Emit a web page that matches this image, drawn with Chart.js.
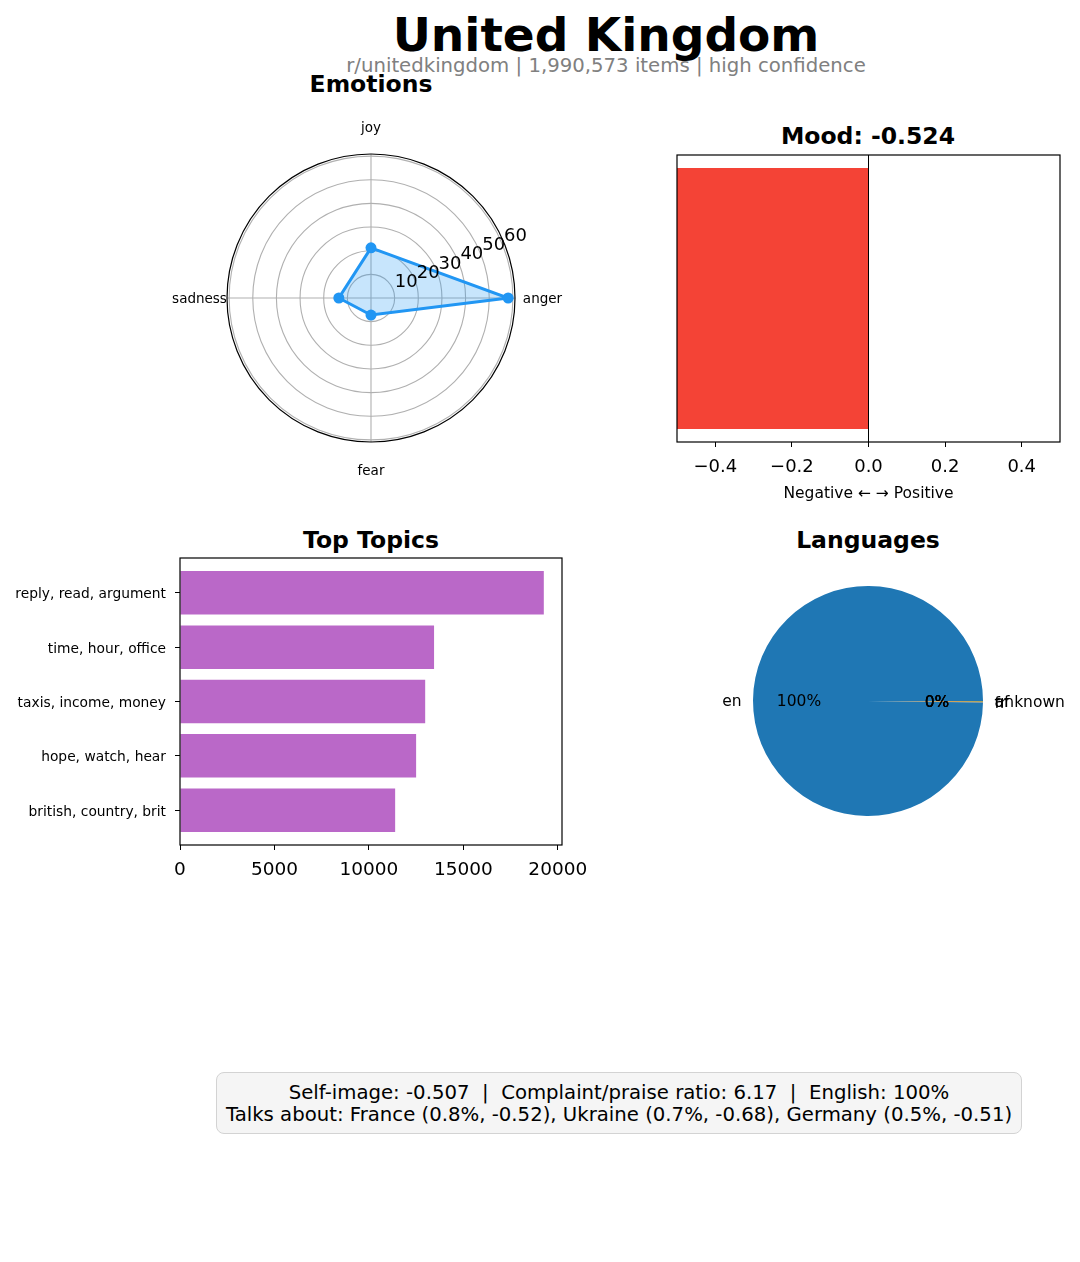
<!DOCTYPE html>
<html><head><meta charset="utf-8">
<script src="https://cdn.jsdelivr.net/npm/chart.js@4.4.1/dist/chart.umd.min.js"></script>
<style>
body{margin:0;background:#fff;width:1080px;height:1262px;position:relative;overflow:hidden;font-family:"DejaVu Sans",sans-serif;color:#000;}
.t{position:absolute;text-align:center;white-space:pre;}
canvas{position:absolute;}
#box{position:absolute;left:216px;top:1072px;width:806px;height:62px;box-sizing:border-box;border:1px solid #d3d3d3;border-radius:8px;background:#f5f5f5;text-align:center;font-size:19.7px;line-height:22px;padding-top:9px;white-space:pre;}
</style></head><body>

<div class="t" style="left:206px;width:800px;top:7px;line-height:56px;font-size:47px;font-weight:bold;">United Kingdom</div>
<div class="t" style="left:206px;width:800px;top:54px;line-height:24px;font-size:19.7px;color:#808080;">r/unitedkingdom | 1,990,573 items | high confidence</div>
<div class="t" style="left:171px;width:400px;top:71px;line-height:26px;font-size:23.5px;font-weight:bold;">Emotions</div>
<div class="t" style="left:668px;width:400px;top:123px;line-height:26px;font-size:23.5px;font-weight:bold;">Mood: -0.524</div>
<div class="t" style="left:171px;width:400px;top:527px;line-height:26px;font-size:23.5px;font-weight:bold;">Top Topics</div>
<div class="t" style="left:668px;width:400px;top:527px;line-height:26px;font-size:23.5px;font-weight:bold;">Languages</div>

<canvas id="radar" width="400" height="400" style="left:171px;top:98px;"></canvas>
<canvas id="mood" width="413" height="380" style="left:667px;top:145px;"></canvas>
<canvas id="topics" width="600" height="350" style="left:0px;top:548px;"></canvas>
<canvas id="langs" width="412" height="300" style="left:668px;top:551px;"></canvas>

<div id="box">Self-image: -0.507  |  Complaint/praise ratio: 6.17  |  English: 100%
Talks about: France (0.8%, -0.52), Ukraine (0.7%, -0.68), Germany (0.5%, -0.51)</div>

<script>
// ---- data ----
const emotions = ['joy', 'anger', 'fear', 'sadness'];
const emotionValues = [21.2, 58.0, 7.2, 13.6];
const emotionTicks = [10, 20, 30, 40, 50, 60];

const moodValue = -0.524;
const moodTicks = [-0.4, -0.2, 0.0, 0.2, 0.4];

const topics = ['reply, read, argument', 'time, hour, office', 'taxis, income, money', 'hope, watch, hear', 'british, country, brit'];
const topicValues = [19260, 13450, 12980, 12500, 11390];
const topicTicks = [0, 5000, 10000, 15000, 20000];

const languages = ['en', 'fr', 'af', 'unknown'];
const languageShares = [99.8, 0.1, 0.05, 0.05];
const languageColors = ['#1f77b4', '#ff7f0e', '#2ca02c', '#d62728'];

Chart.defaults.font.family = '"DejaVu Sans", sans-serif';
Chart.defaults.color = '#000';

const FONT = '"DejaVu Sans", sans-serif';

const frame = {
  id: 'frame',
  afterDraw(chart) {
    const {left, top, width, height} = chart.chartArea;
    const ctx = chart.ctx;
    ctx.save();
    ctx.strokeStyle = '#000';
    ctx.lineWidth = 1.2;
    ctx.strokeRect(left, top, width, height);
    ctx.restore();
  }
};

// ---- radar ----
const radarDeco = {
  id: 'radarDeco',
  afterDatasetsDraw(chart) {
    const s = chart.scales.r, ctx = chart.ctx;
    const R = s.drawingArea;
    ctx.save();
    ctx.beginPath();
    ctx.arc(s.xCenter, s.yCenter, R, 0, Math.PI * 2);
    ctx.strokeStyle = '#000';
    ctx.lineWidth = 1.2;
    ctx.stroke();
    ctx.fillStyle = '#000';
    ctx.font = '18px ' + FONT;
    ctx.textAlign = 'left';
    ctx.textBaseline = 'bottom';
    const a = 22.5 * Math.PI / 180;
    emotionTicks.forEach(v => {
      const d = s.getDistanceFromCenterForValue(v);
      ctx.fillText(String(v), s.xCenter + d * Math.cos(a) + 2, s.yCenter - d * Math.sin(a) + 2);
    });
    ctx.font = '13.5px ' + FONT;
    ctx.textAlign = 'center';
    ctx.textBaseline = 'middle';
    emotions.forEach((lab, i) => {
      const p = s.getPointPosition(i, R + 27.5);
      ctx.fillText(lab, p.x, p.y + 1.5);
    });
    ctx.restore();
  }
};

new Chart(document.getElementById('radar'), {
  type: 'radar',
  data: {
    labels: emotions,
    datasets: [{
      data: emotionValues,
      borderColor: '#2196F3',
      borderWidth: 3,
      backgroundColor: 'rgba(33,150,243,0.25)',
      fill: true,
      pointRadius: 5.5,
      pointBackgroundColor: '#2196F3',
      pointBorderWidth: 0,
      tension: 0
    }]
  },
  options: {
    responsive: false,
    animation: false,
    layout: {padding: 56},
    plugins: {legend: {display: false}, tooltip: {enabled: false}},
    scales: {
      r: {
        min: 0,
        max: Math.max(...emotionValues) * 1.05,
        afterBuildTicks: s => { s.ticks = [0].concat(emotionTicks).map(v => ({value: v})); },
        ticks: {display: false},
        pointLabels: {display: false},
        grid: {circular: true, color: '#b0b0b0', lineWidth: 1.1},
        angleLines: {color: '#b0b0b0', lineWidth: 1.1}
      }
    }
  },
  plugins: [radarDeco]
});

// ---- mood ----
const fmtMinus = v => (v < 0 ? '\u2212' : '') + Math.abs(v).toFixed(1);
new Chart(document.getElementById('mood'), {
  type: 'bar',
  data: {
    labels: ['mood'],
    datasets: [{
      data: [moodValue],
      backgroundColor: '#F44336',
      borderWidth: 0,
      barPercentage: 0.8 / 0.88,
      categoryPercentage: 1,
      clip: 0
    }]
  },
  options: {
    indexAxis: 'y',
    responsive: false,
    animation: false,
    layout: {padding: {left: 10, right: 20, top: 10, bottom: 18}},
    plugins: {legend: {display: false}, tooltip: {enabled: false}},
    scales: {
      x: {
        min: -0.5, max: 0.5,
        afterBuildTicks: s => { s.ticks = moodTicks.map(v => ({value: v})); },
        ticks: {callback: v => fmtMinus(v), font: {size: 18}, color: '#000', padding: 10, maxRotation: 0},
        grid: {color: c => (c.tick && Math.abs(c.tick.value) < 1e-9) ? '#000' : 'rgba(0,0,0,0)', tickColor: '#000', tickLength: 5, lineWidth: 1},
        border: {display: false},
        title: {display: true, text: 'Negative \u2190 \u2192 Positive', font: {size: 15.5}, color: '#000', padding: {top: 4, bottom: 4}},
        afterFit: s => { s.height = 65; }
      },
      y: {display: false}
    }
  },
  plugins: [frame]
});

// ---- topics ----
new Chart(document.getElementById('topics'), {
  type: 'bar',
  data: {
    datasets: [{
      data: topicValues.map((v, i) => ({x: v, y: i})),
      backgroundColor: '#BA68C8',
      borderWidth: 0,
      barPercentage: 0.8,
      categoryPercentage: 1
    }]
  },
  options: {
    indexAxis: 'y',
    responsive: false,
    animation: false,
    layout: {padding: {left: 0, right: 38, top: 10, bottom: 3}},
    plugins: {legend: {display: false}, tooltip: {enabled: false}},
    scales: {
      x: {
        type: 'linear',
        min: 0, max: Math.max(...topicValues) * 1.05,
        afterBuildTicks: s => { s.ticks = topicTicks.map(v => ({value: v})); },
        ticks: {callback: v => String(v), font: {size: 18.5}, color: '#000', padding: 9, maxRotation: 0},
        grid: {drawOnChartArea: false, color: '#000', tickLength: 5, lineWidth: 1},
        border: {display: false},
        afterFit: s => { s.height = 50; s.paddingLeft = 0; s.paddingRight = 0; }
      },
      y: {
        type: 'linear',
        reverse: true,
        offset: false,
        min: -0.4 - 0.05 * (topics.length - 1 + 0.8),
        max: topics.length - 1 + 0.4 + 0.05 * (topics.length - 1 + 0.8),
        afterBuildTicks: s => { s.ticks = topics.map((_, i) => ({value: i})); },
        ticks: {callback: v => topics[v], font: {size: 13.8}, color: '#000', padding: 9, autoSkip: false, labelOffset: 2},
        grid: {drawOnChartArea: false, color: '#000', tickLength: 5, lineWidth: 1, offset: false},
        border: {display: false},
        afterFit: s => { s.width = 180; s.paddingTop = 0; s.paddingBottom = 0; }
      }
    }
  },
  plugins: [frame]
});

// ---- languages ----
const pieLabelsPlugin = {
  id: 'pieLabels',
  afterDatasetsDraw(chart) {
    const meta = chart.getDatasetMeta(0);
    const ds = chart.data.datasets[0].data;
    const labs = chart.data.labels;
    const total = ds.reduce((a, b) => a + b, 0);
    const ctx = chart.ctx;
    ctx.save();
    ctx.fillStyle = '#000';
    ctx.font = '15.5px ' + FONT;
    ctx.textBaseline = 'middle';
    meta.data.forEach((arc, i) => {
      const p = arc.getProps(['x', 'y', 'startAngle', 'endAngle', 'outerRadius'], true);
      const mid = (p.startAngle + p.endAngle) / 2;
      const c = Math.cos(mid), sn = Math.sin(mid);
      ctx.textAlign = c >= 0 ? 'left' : 'right';
      ctx.fillText(labs[i], p.x + c * p.outerRadius * 1.1, p.y + sn * p.outerRadius * 1.1 + 1.5);
      ctx.textAlign = 'center';
      ctx.fillText(Math.round(ds[i] / total * 100) + '%', p.x + c * p.outerRadius * 0.6, p.y + sn * p.outerRadius * 0.6 + 1.5);
    });
    ctx.restore();
  }
};

new Chart(document.getElementById('langs'), {
  type: 'pie',
  data: {
    labels: languages.slice().reverse(),
    datasets: [{
      data: languageShares.slice().reverse(),
      backgroundColor: languageColors.slice().reverse(),
      borderWidth: 0
    }]
  },
  options: {
    responsive: false,
    animation: false,
    rotation: 90,
    layout: {padding: {left: 85, right: 97, top: 35, bottom: 35}},
    plugins: {legend: {display: false}, tooltip: {enabled: false}}
  },
  plugins: [pieLabelsPlugin]
});
</script>
</body></html>
